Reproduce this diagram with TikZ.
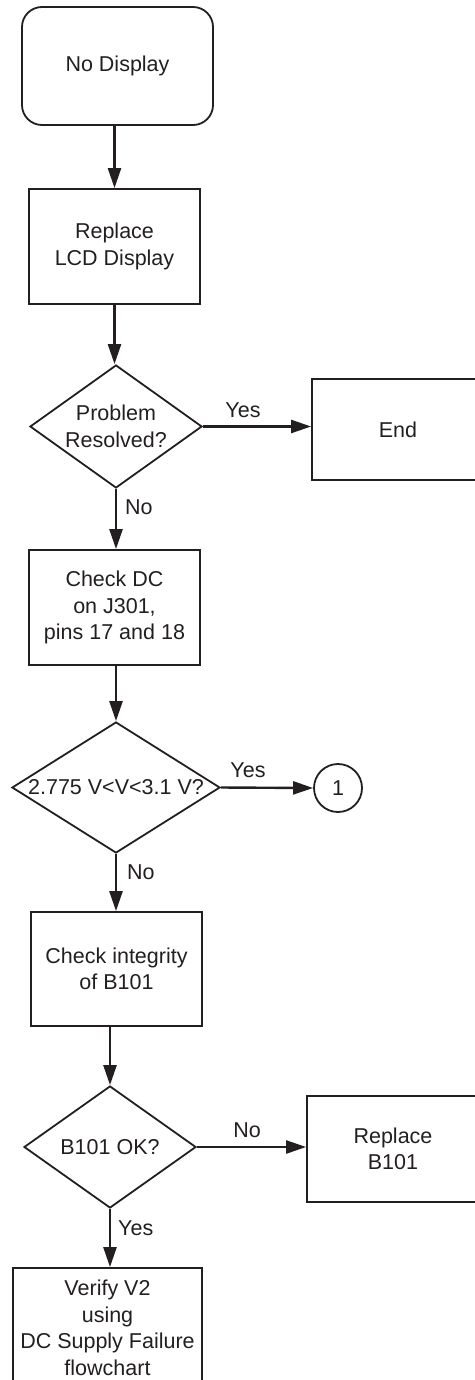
\documentclass[tikz,border=0pt]{standalone}
\usepackage{fontspec}
\setmainfont{Liberation Sans}
\usetikzlibrary{shapes.geometric,arrows.meta}
\definecolor{ink}{HTML}{231F20}
\tikzset{
  box/.style={draw=ink, line width=1.8pt, rectangle, inner sep=0pt, align=center, text=ink},
  term/.style={box, rounded corners=20pt},
  dec/.style={draw=ink, line width=1.8pt, diamond, inner sep=0pt, align=center, text=ink},
  conn/.style={draw=ink, line width=1.8pt, circle, inner sep=0pt, text=ink},
  arr/.style={draw=ink, line width=2.4pt, -{Triangle[length=20pt,width=13pt]}},
  lbl/.style={text=ink, inner sep=0pt}
}
\begin{document}
\begin{tikzpicture}[x=1pt,y=-1pt,font=\fontsize{21.5}{26.5}\selectfont]
\useasboundingbox (0,0) rectangle (474,1380);
\node[term, minimum width=191pt, minimum height=118pt] (start) at (117.5,66) {No Display};
\node[box, minimum width=171pt, minimum height=115pt] (repl) at (114.5,246.5) {Replace\\LCD Display};
\node[dec, minimum width=172pt, minimum height=123pt, aspect=1.4] (d1) at (116,426.5) {Problem\\Resolved?};
\node[box, minimum width=172pt, minimum height=101pt] (end) at (398,429.5) {End};
\node[box, minimum width=171pt, minimum height=115pt] (dc) at (114.5,607.5) {Check DC\\on J301,\\pins 17 and 18};
\node[dec, minimum width=208pt, minimum height=131pt, aspect=1.59, inner sep=-3pt] (d2) at (116,787.5) {2.775 V<V<3.1 V?};
\node[conn, minimum size=48pt] (one) at (338,788) {1};
\node[box, minimum width=171pt, minimum height=114pt] (ci) at (116.5,969) {Check integrity\\of B101};
\node[dec, minimum width=172pt, minimum height=122pt, aspect=1.41] (d3) at (110,1147) {B101 OK?};
\node[box, minimum width=172pt, minimum height=106pt] (rb) at (393,1149) {Replace\\B101};
\node[box, minimum width=189pt, minimum height=120pt] (ver) at (107.5,1328) {Verify V2\\using\\DC Supply Failure\\flowchart};

\draw[arr] (start.south -| repl.north) -- (repl.north);
\draw[arr] (repl.south) -- (repl.south |- d1.north);
\draw[arr] (d1.east) -- (d1.east -| end.west);
\node[lbl] (yes1) at (243,410) {Yes};
\draw[arr] (d1.south) -- (d1.south |- dc.north);
\node[lbl, anchor=west] (no1) at (125,507) {No};
\draw[arr] (dc.south -| d2.north) -- (d2.north);
\draw[arr] (d2.east) -- (one.west);
\node[lbl] (yes2) at (248,770) {Yes};
\draw[arr] (d2.south) -- (d2.south |- ci.north);
\node[lbl, anchor=west] (no2) at (127,872) {No};
\draw[arr] (ci.south -| d3.north) -- (d3.north);
\draw[arr] (d3.east) -- (d3.east -| rb.west);
\node[lbl] (no3) at (247,1130) {No};
\draw[arr] (d3.south) -- (d3.south |- ver.north);
\node[lbl, anchor=west] (yes3) at (118,1228) {Yes};
\end{tikzpicture}
\end{document}
